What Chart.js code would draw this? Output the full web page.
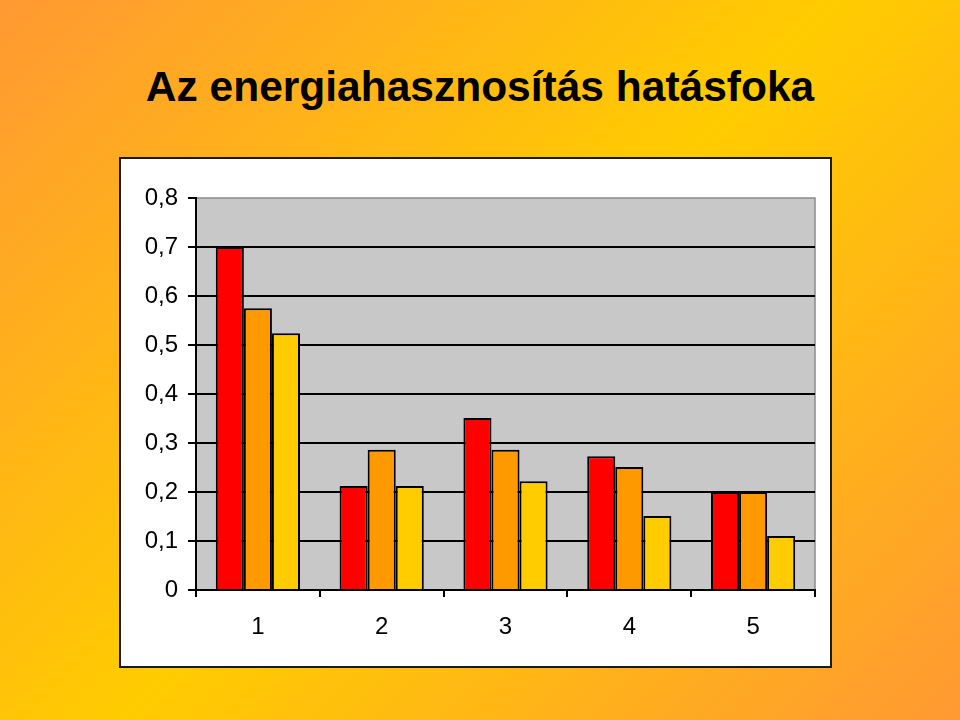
<!DOCTYPE html>
<html>
<head>
<meta charset="utf-8">
<script src="https://cdn.jsdelivr.net/npm/chart.js@4"></script>
<style>
  html, body { margin: 0; padding: 0; }
  body {
    width: 960px; height: 720px; overflow: hidden; position: relative;
    background: linear-gradient(135deg, #ff9933 0%, #ffcc00 50%, #ff9933 100%);
    font-family: "Liberation Sans", Arial, sans-serif;
  }
  #title {
    position: absolute; left: 0; width: 960px; top: 62px;
    text-align: center; font-weight: bold; font-size: 42.5px; color: #000;
    line-height: 50px;
  }
  #box {
    position: absolute; left: 119px; top: 157px; width: 709px; height: 507px;
    background: #fff; border: 2px solid #1a1a1a;
  }
  #chart { position: absolute; left: 0; top: 0; }
</style>
</head>
<body>
<div id="title">Az energiahasznosítás hatásfoka</div>
<div id="box"></div>
<canvas id="chart" width="960" height="720"></canvas>
<script>
// values
const categories = ['1', '2', '3', '4', '5'];
const redValues = [0.7, 0.212, 0.351, 0.273, 0.2];
const orangeValues = [0.575, 0.286, 0.286, 0.251, 0.2];
const yellowValues = [0.524, 0.212, 0.222, 0.151, 0.11];

// gray plot background with thin gray frame on top/right
const plotBackground = {
    id: 'plotBackground',
    beforeDraw(chart) {
        const { ctx, chartArea: a } = chart;
        ctx.save();
        ctx.fillStyle = '#c8c8c8';
        ctx.fillRect(a.left, a.top, a.right - a.left, a.bottom - a.top);
        ctx.strokeStyle = '#8a8a8a';
        ctx.lineWidth = 1.5;
        ctx.beginPath();
        ctx.moveTo(a.left, a.top);
        ctx.lineTo(a.right, a.top);
        ctx.lineTo(a.right, a.bottom);
        ctx.stroke();
        ctx.restore();
    }
};

const ds = (data, color) => ({
    data: data,
    backgroundColor: color,
    borderColor: '#000',
    borderWidth: 2,
    categoryPercentage: 0.68,
    barPercentage: 1.0,
});

new Chart(document.getElementById('chart'), {
    type: 'bar',
    data: {
        labels: categories,
        datasets: [
            ds(redValues, '#ff0000'),
            ds(orangeValues, '#ff9900'),
            ds(yellowValues, '#ffcc00'),
        ],
    },
    options: {
        responsive: false,
        animation: false,
        layout: { padding: { left: 110, right: 145, top: 198, bottom: 70 } },
        plugins: { legend: { display: false }, tooltip: { enabled: false } },
        scales: {
            x: {
                afterFit: (s) => { s.height = 60; },
                grid: { offset: true, drawOnChartArea: false, drawTicks: true, tickLength: 7, color: '#000', lineWidth: 2 },
                border: { color: '#000', width: 2 },
                ticks: { color: '#000', padding: 16, font: { family: 'Liberation Sans', size: 24 } },
            },
            y: {
                min: 0, max: 0.8,
                afterFit: (s) => { s.width = 86; },
                grid: {
                    color: (c) => (c.tick && c.tick.value >= 0.79 ? 'rgba(0,0,0,0)' : '#000'),
                    tickColor: '#000',
                    lineWidth: 2,
                    tickLength: 8,
                },
                border: { color: '#000', width: 2 },
                ticks: {
                    stepSize: 0.1,
                    color: '#000',
                    padding: 10,
                    font: { family: 'Liberation Sans', size: 24 },
                    callback: (v) => (v === 0 ? '0' : v.toFixed(1).replace('.', ',')),
                },
            },
        },
    },
    plugins: [plotBackground],
});
</script>
</body>
</html>
